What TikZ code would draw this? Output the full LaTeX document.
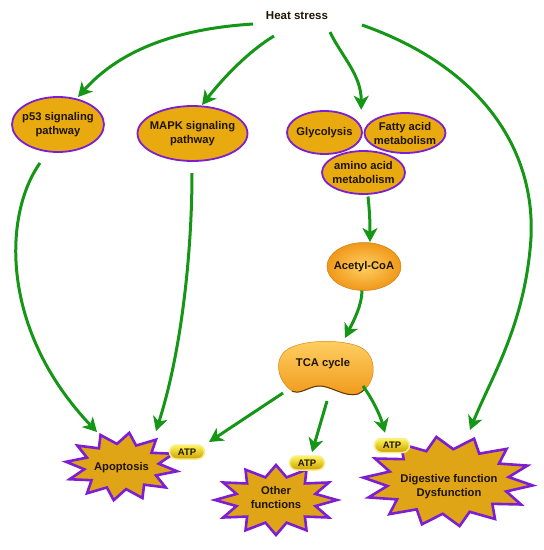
\documentclass[tikz,border=0pt]{standalone}
\usepackage{fontspec}
\setmainfont{Liberation Sans}
\usetikzlibrary{arrows.meta,shapes.geometric,shapes.misc,calc}
\definecolor{grn}{RGB}{22,150,22}
\definecolor{gold}{RGB}{232,170,14}
\definecolor{starfill}{RGB}{224,165,22}
\definecolor{purp}{RGB}{125,30,210}
\definecolor{txt}{RGB}{30,20,0}
\definecolor{orlight}{RGB}{255,208,100}
\definecolor{ordark}{RGB}{240,152,25}
\definecolor{atptop}{RGB}{255,245,90}
\definecolor{atpbot}{RGB}{205,160,0}
\definecolor{atpglow}{RGB}{250,238,140}
\definecolor{rim}{RGB}{95,55,10}
\begin{document}
\begin{tikzpicture}[x=1pt,y=-1pt,
  font=\bfseries\fontsize{11.2}{14}\selectfont,
  pw/.style={ellipse, draw=purp, line width=1.8pt, fill=gold, inner xsep=-6pt, inner ysep=0pt, align=center, text=txt},
  arr/.style={draw=grn, line width=3pt, -{Stealth[length=14pt,width=15pt,inset=4pt]}},
  starsty/.style={draw=purp, fill=starfill, line width=2.6pt, line join=miter},
  lbl/.style={align=center, text=txt, inner sep=0pt},
  orb/.style={ellipse, inner xsep=-4pt, inner ysep=0pt, inner color=orlight, outer color=ordark, draw=ordark!85!black, line width=0.5pt, text=txt},
  atp/.style={rounded rectangle, minimum width=35pt, minimum height=14pt, inner sep=0pt,
    top color=atptop, bottom color=atpbot, draw=atpglow, line width=1.5pt, text=txt,
    font=\bfseries\fontsize{9.5}{11}\selectfont}
]
\useasboundingbox (0,0) rectangle (544,550);

% stars
\path[starsty] plot[samples at={0,...,23}, variable=\i]
  ({121.5+(1-0.33*mod(\i,2))*56*cos(\i*15+8)}, {466.5+(1-0.33*mod(\i,2))*34*sin(\i*15+8)}) -- cycle;
\path[starsty] plot[samples at={0,...,23}, variable=\i]
  ({276+(1-0.33*mod(\i,2))*61*cos(\i*15)}, {500+(1-0.33*mod(\i,2))*35*sin(\i*15)}) -- cycle;
\path[starsty] plot[samples at={0,...,27}, variable=\i]
  ({448+(1-0.28*mod(\i,2))*85*cos(\i*12.857+5)}, {481.5+(1-0.28*mod(\i,2))*45*sin(\i*12.857+5)}) -- cycle;

% TCA bean
\path[top color=orlight, bottom color=ordark, draw=ordark!90!black, line width=0.5pt]
  (292,391) .. controls (276,380) and (272,355) .. (292,347)
  .. controls (310,339) and (345,340) .. (360,347)
  .. controls (378,355) and (378,385) .. (358,394)
  .. controls (345,398) and (330,385) .. (318,386)
  .. controls (308,387) and (300,395) .. (292,391) -- cycle;
\draw[rim, line width=1pt] (366,388) .. controls (362,392) and (360,393) .. (358,394)
  .. controls (345,398) and (330,385) .. (318,386)
  .. controls (308,387) and (300,395) .. (292,391);

% nodes
\node[lbl, font=\bfseries\fontsize{11.5}{14}\selectfont] (heat) at (297,16) {Heat stress};
\node[pw, minimum width=92pt, minimum height=55pt] (p53) at (58,124.5) {p53 signaling\\pathway};
\node[pw, minimum width=110pt, minimum height=55pt] (mapk) at (192.5,133.5) {MAPK signaling\\pathway};
\node[pw, minimum width=75pt, minimum height=43pt] (glyc) at (324.5,132.5) {Glycolysis};
\node[pw, minimum width=81pt, minimum height=40pt] (fatty) at (405,133) {Fatty acid\\metabolism};
\node[pw, minimum width=83pt, minimum height=43pt] (amino) at (363.5,172.5) {amino acid\\metabolism};
\node[orb, minimum width=70pt, minimum height=48pt] (acetyl) at (364,266.5) {Acetyl-CoA};
\node[lbl] (tca) at (323,364) {TCA cycle};
\node[lbl] (apop) at (121.5,468) {Apoptosis};
\node[lbl] (other) at (276,497) {Other\\functions};
\node[lbl] (dig) at (449,487) {Digestive function\\Dysfunction};
\node[atp] (atp1) at (187,452) {ATP};
\node[atp] (atp2) at (307,463) {ATP};
\node[atp] (atp3) at (392,445.5) {ATP};

\coordinate (metab) at ($(glyc.east)!.5!(fatty.west)+(-2,-23)$);
\coordinate (bendR) at (530,250);

% connectors
\draw[arr] ($(heat)+(-44,8)$) .. controls +(-80,5) and +(40,-45) .. ($(p53)+(20,-27.5)$);
\draw[arr] ($(heat)+(-23,20)$) .. controls +(-25,15) and +(22,-28) .. ($(mapk)+(9.5,-28.5)$);
\draw[arr] ($(heat)+(33,16)$) .. controls +(12,25) and +(0,-35) .. (metab);
\draw[arr] ($(heat)+(65,9)$) .. controls +(128,45) and +(10,-90) .. (bendR)
  .. controls +(-8,80) and +(20,-50) .. ($(dig)+(21,-57)$);
\draw[arr] ($(p53)+(-18,38.5)$) .. controls +(-37,52) and +(-97,-102) .. ($(apop)+(-24.5,-36)$);
\draw[arr] ($(mapk)+(-0.5,39.5)$) .. controls +(0,77) and +(26,-81) .. ($(apop)+(34.5,-37)$);
\draw[arr] ($(amino)+(4.5,24)$) .. controls +(2,18) and +(0,-15) .. ($(acetyl)+(6,-24.5)$);
\draw[arr] ($(acetyl)+(-2,24)$) .. controls +(0,15) and +(8,-16) .. ($(tca)+(22,-26)$);
\draw[arr] ($(tca)+(-40,29)$) -- ($(atp1)+(22,-10)$);
\draw[arr] ($(tca)+(4,37)$) -- ($(atp2.north)+(5,-3)$);
\draw[arr] ($(tca)+(40,22)$) .. controls +(10,14) and +(-5,-18) .. ($(atp3.north)+(-7,-5)$);
\end{tikzpicture}
\end{document}
